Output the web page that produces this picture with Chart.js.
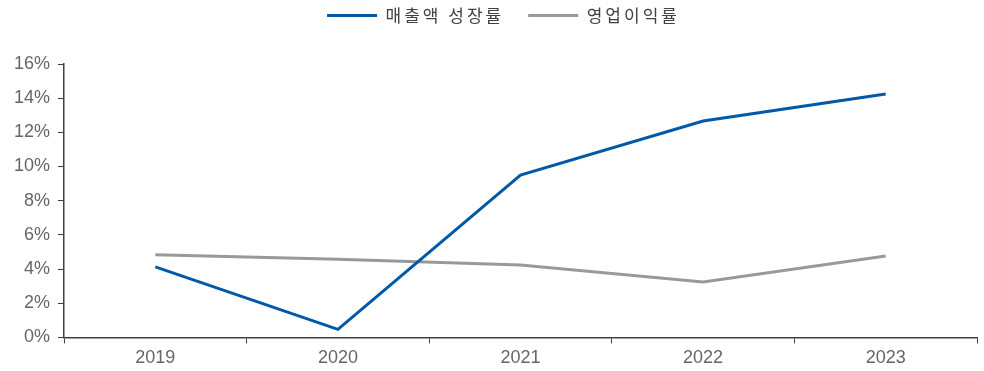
<!DOCTYPE html>
<html>
<head>
<meta charset="utf-8">
<script src="https://cdn.jsdelivr.net/npm/chart.js@4/dist/chart.umd.min.js"></script>
<style>
    html, body { margin: 0; padding: 0; background: #fff; }
    #wrap { width: 984px; height: 371px; }
</style>
</head>
<body>
<div id="wrap"><canvas id="chart"></canvas></div>
<script>
// data
const years = ['2019', '2020', '2021', '2022', '2023'];
const salesGrowth = [4.13, 0.47, 9.5, 12.66, 14.25];
const opMargin = [4.84, 4.57, 4.24, 3.24, 4.76];
const yTicks = [0, 2, 4, 6, 8, 10, 12, 14, 16];

const axisColor = '#404040';
const tickFont = { family: "'Liberation Sans', Arial, sans-serif", size: 18 };

// legend: wider letter spacing, nudged right, and extra room under it
const legendSpacing = {
    id: 'legendSpacing',
    beforeInit(chart) {
        const legend = chart.legend;
        const fit = legend.fit;
        const draw = legend.draw;
        legend.fit = function() {
            const ctx = this.ctx;
            ctx.save();
            ctx.letterSpacing = '3px';
            fit.call(this);
            ctx.restore();
            this.height = 81;
        };
        legend.draw = function() {
            const ctx = this.ctx;
            ctx.save();
            ctx.letterSpacing = '3px';
            ctx.translate(12, 0);
            draw.call(this);
            ctx.restore();
        };
    }
};

const ctx = document.getElementById('chart').getContext('2d');
new Chart(ctx, {
    type: 'line',
    data: {
        labels: years,
        datasets: [
            {
                label: '매출액 성장률',
                data: salesGrowth,
                borderColor: '#0058A9',
                backgroundColor: '#0058A9',
                borderWidth: 3,
                pointRadius: 0,
                tension: 0
            },
            {
                label: '영업이익률',
                data: opMargin,
                borderColor: '#999999',
                backgroundColor: '#999999',
                borderWidth: 3,
                pointRadius: 0,
                tension: 0
            }
        ]
    },
    options: {
        responsive: true,
        maintainAspectRatio: false,
        animation: false,
        layout: { padding: { left: 6, right: 7, top: -17, bottom: -2 } },
        plugins: {
            tooltip: { enabled: false },
            legend: {
                position: 'top',
                labels: {
                    usePointStyle: true,
                    pointStyle: 'line',
                    pointStyleWidth: 50,
                    boxHeight: 10,
                    padding: 24,
                    color: '#404040',
                    font: { family: "'Noto Sans CJK KR', sans-serif", size: 17 }
                }
            }
        },
        scales: {
            x: {
                offset: true,
                border: { display: true, color: axisColor, width: 1.5 },
                grid: {
                    offset: true,
                    drawOnChartArea: false,
                    drawTicks: true,
                    tickLength: 6,
                    color: axisColor
                },
                ticks: { color: '#666666', font: tickFont, padding: 4 }
            },
            y: {
                min: 0,
                max: 16,
                afterBuildTicks: axis => {
                    axis.ticks = yTicks.map(v => ({ value: v }));
                },
                border: { display: true, color: axisColor, width: 1.5 },
                grid: {
                    drawOnChartArea: false,
                    drawTicks: true,
                    tickLength: 6,
                    color: axisColor
                },
                ticks: {
                    color: '#666666',
                    font: tickFont,
                    padding: 8,
                    callback: v => v + '%'
                }
            }
        }
    },
    plugins: [legendSpacing]
});
</script>
</body>
</html>
